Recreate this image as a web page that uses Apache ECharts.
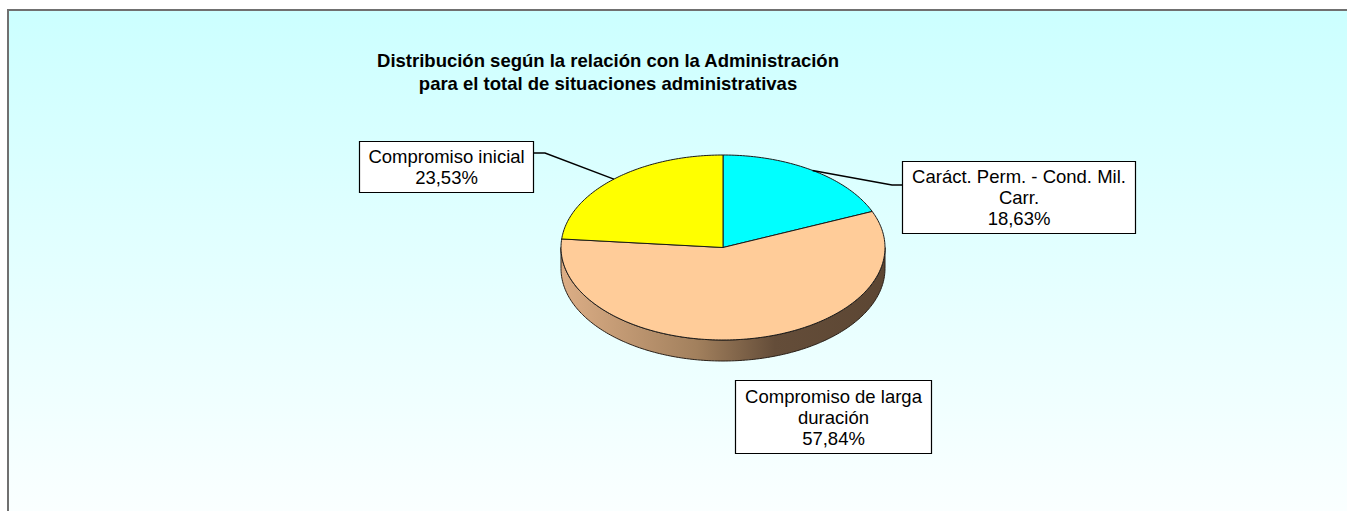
<!DOCTYPE html>
<html>
<head>
<meta charset="utf-8">
<script src="https://cdn.jsdelivr.net/npm/echarts@6/dist/echarts.min.js"></script>
<style>
  html, body { margin: 0; padding: 0; background: #ffffff; }
  #chart { width: 1347px; height: 511px; }
</style>
</head>
<body>
<div id="chart"></div>
<script>
// ---- data ----
const titleLines = [
  'Distribución según la relación con la Administración',
  'para el total de situaciones administrativas'
];
const categories = [
  'Caráct. Perm. - Cond. Mil. Carr.',
  'Compromiso de larga duración',
  'Compromiso inicial'
];
// how each category name wraps inside its label box
const labelLines = [
  ['Caráct. Perm. - Cond. Mil.', 'Carr.'],
  ['Compromiso de larga', 'duración'],
  ['Compromiso inicial']
];
const shares = [18.63, 57.84, 23.53];

// ---- look & layout ----
const FONT = '"Liberation Sans", Arial, sans-serif';
const topColors = ['#00FFFF', '#FFCC99', '#FFFF00'];
const sideStops = [
  [[0, '#66D8D8'], [1, '#008B8B']],
  [[0, '#DCAE86'], [0.42, '#A2805D'], [0.66, '#644D39'], [1, '#5C4633']],
  [[0, '#D8D860'], [1, '#7F7F00']]
];
// ellipse of the pie's top face and the thickness of the disc
const CX = 723, CY = 247.5, RX = 162, RY = 92.5, DEPTH = 21;
// label boxes: [x, y, w, h] and an optional elbow for the leader line
const labelBoxes = [
  { box: [902, 161, 233, 72], from: [902, 185], elbow: [892, 185] },
  { box: [735, 380, 196, 73] },
  { box: [359, 141, 174, 51], from: [533, 153], elbow: [545, 153] }
];

const total = shares.reduce((a, b) => a + b, 0);
const starts = [];
{
  let acc = 0;
  shares.forEach(v => { starts.push(acc); acc += v / total * 360; });
}
const spanOf = i => [starts[i], starts[i] + shares[i] / total * 360];

// angle measured clockwise from 12 o'clock, in degrees
function pt(deg, dy) {
  const r = deg * Math.PI / 180;
  return [CX + RX * Math.sin(r), CY - RY * Math.cos(r) + (dy || 0)];
}
function arc(a, b, dy) {
  const pts = [];
  const n = Math.max(2, Math.ceil(Math.abs(b - a)));
  for (let k = 0; k <= n; k++) pts.push(pt(a + (b - a) * k / n, dy));
  return pts;
}
const fmtPct = v => v.toFixed(2).replace('.', ',') + '%';

function renderSide(params) {
  const i = params.dataIndex;
  const [s, e] = spanOf(i);
  const a = Math.max(s, 90), b = Math.min(e, 270);
  if (b <= a) return { type: 'group', children: [] };
  const pts = arc(a, b, 0).concat(arc(b, a, DEPTH));
  return {
    type: 'polygon',
    shape: { points: pts },
    style: {
      fill: new echarts.graphic.LinearGradient(CX - RX, 0, CX + RX, 0,
        sideStops[i].map(([offset, color]) => ({ offset, color })), true),
      stroke: '#2a2018',
      lineWidth: 1
    }
  };
}

function renderTop(params) {
  const i = params.dataIndex;
  const [s, e] = spanOf(i);
  const pts = [[CX, CY]].concat(arc(s, e, 0));
  return {
    type: 'polygon',
    shape: { points: pts },
    style: { fill: topColors[i], stroke: '#1a1a1a', lineWidth: 1 }
  };
}

function renderLabel(params) {
  const i = params.dataIndex;
  const L = labelBoxes[i];
  const [x, y, w, h] = L.box;
  const children = [];
  if (L.from) {
    const [s, e] = spanOf(i);
    const anchor = pt((s + e) / 2, 0);
    children.push({
      type: 'polyline',
      shape: { points: [L.from, L.elbow, anchor] },
      style: { stroke: '#000', lineWidth: 1.5, fill: null }
    });
  }
  children.push({
    type: 'rect',
    shape: { x: x + 0.5, y: y + 0.5, width: w, height: h },
    style: { fill: '#ffffff', stroke: '#000', lineWidth: 1.2 }
  });
  children.push({
    type: 'text',
    x: x + w / 2 + 0.5,
    y: y + h / 2 + 0.5,
    style: {
      text: labelLines[i].concat([fmtPct(shares[i])]).join('\n'),
      font: '18.5px ' + FONT,
      lineHeight: 21,
      fill: '#000',
      align: 'center',
      verticalAlign: 'middle'
    }
  });
  return { type: 'group', children };
}

const chart = echarts.init(document.getElementById('chart'), null, { renderer: 'svg' });
chart.setOption({
  animation: false,
  backgroundColor: '#ffffff',
  title: {
    text: titleLines.join('\n'),
    left: 608,
    top: 49,
    padding: 0,
    textAlign: 'center',
    textStyle: {
      fontFamily: FONT,
      fontSize: 18.5,
      fontWeight: 'bold',
      color: '#000',
      lineHeight: 23
    }
  },
  graphic: [{
    type: 'rect',
    z: -10,
    shape: { x: 8, y: 10, width: 1400, height: 600 },
    style: {
      fill: new echarts.graphic.LinearGradient(0, 0, 0, 1, [
        { offset: 0, color: '#CCFFFF' },
        { offset: 0.85, color: '#FBFFFF' },
        { offset: 1, color: '#FFFFFF' }
      ]),
      stroke: '#707070',
      lineWidth: 2
    }
  }],
  series: [
    {
      type: 'custom', name: 'side', coordinateSystem: 'none',
      data: shares.map((v, i) => ({ name: categories[i], value: v })),
      renderItem: renderSide, z: 2, silent: true
    },
    {
      type: 'custom', name: 'top', coordinateSystem: 'none',
      data: shares.map((v, i) => ({ name: categories[i], value: v })),
      renderItem: renderTop, z: 3
    },
    {
      type: 'custom', name: 'labels', coordinateSystem: 'none',
      data: shares.map((v, i) => ({ name: categories[i], value: v })),
      renderItem: renderLabel, z: 4, silent: true
    }
  ]
});
</script>
</body>
</html>
